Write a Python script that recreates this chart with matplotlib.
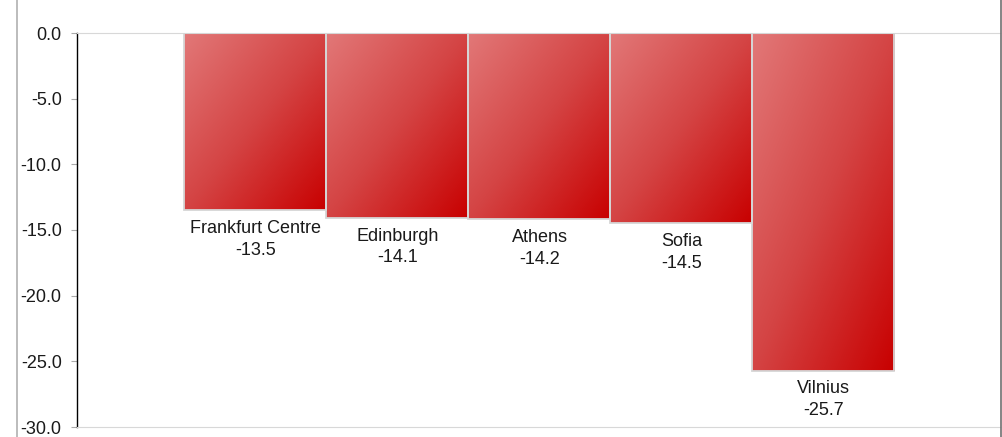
import numpy as np
import matplotlib.pyplot as plt
from matplotlib.colors import LinearSegmentedColormap
from matplotlib.lines import Line2D

plt.rcParams['font.family'] = ['Liberation Sans', 'DejaVu Sans']

# Datos
ciudades = ['Frankfurt Centre', 'Edinburgh', 'Athens', 'Sofia', 'Vilnius']
valores = [-13.5, -14.1, -14.2, -14.5, -25.7]
ticks_y = [0, -5, -10, -15, -20, -25, -30]

fig = plt.figure(figsize=(10.03, 4.37), dpi=100)
ax = fig.add_axes([77 / 1003, 10 / 437, 924 / 1003, 394 / 437])

x = np.arange(len(ciudades))
barras = ax.bar(x, valores, width=1.0, color='none', edgecolor='#d6d6d6',
                linewidth=1.3, zorder=3)

# degradado diagonal dentro de cada barra
cmap = LinearSegmentedColormap.from_list('rojo', ['#e27878', '#d44444', '#c80000'])
u = np.linspace(0, 1, 200)
uu, vv = np.meshgrid(u, u)
grad = (uu + vv) / 2
for b in barras:
    x0, w = b.get_x(), b.get_width()
    h = b.get_height()
    im = ax.imshow(grad, cmap=cmap, vmin=0, vmax=1, aspect='auto',
                   extent=(x0, x0 + w, h, 0), zorder=2, interpolation='bilinear')
    im.set_clip_path(b)

# etiquetas debajo de cada barra
for xi, v, nombre in zip(x, valores, ciudades):
    ax.annotate(f'{nombre}\n{v:.1f}', (xi, v), xytext=(0, -7),
                textcoords='offset points', ha='center', va='top',
                fontsize=13, color='#1a1a1a', linespacing=1.35)

ax.set_xlim(-1.257, 5.25)
ax.set_ylim(-30, 0)
ax.set_yticks(ticks_y)
ax.set_yticklabels([f'{t:.1f}' for t in ticks_y])
ax.set_xticks([])
ax.tick_params(axis='y', length=4, pad=7, color='#aaaaaa', labelsize=13,
               labelcolor='#1a1a1a')

for lado in ['top', 'bottom']:
    ax.spines[lado].set_color('#d8d8d8')
    ax.spines[lado].set_linestyle((0, (1, 1)))
    ax.spines[lado].set_linewidth(0.8)
ax.spines['right'].set_visible(False)
ax.spines['left'].set_color('black')
ax.spines['left'].set_linewidth(1.0)

# bordes grises de la figura
fig.add_artist(Line2D([17.5 / 1003] * 2, [0, 1], color='#b0b0b0', lw=1.2))
fig.add_artist(Line2D([1001.5 / 1003] * 2, [0, 1], color='#707070', lw=1.2))

fig.savefig('out.png', dpi=100)
